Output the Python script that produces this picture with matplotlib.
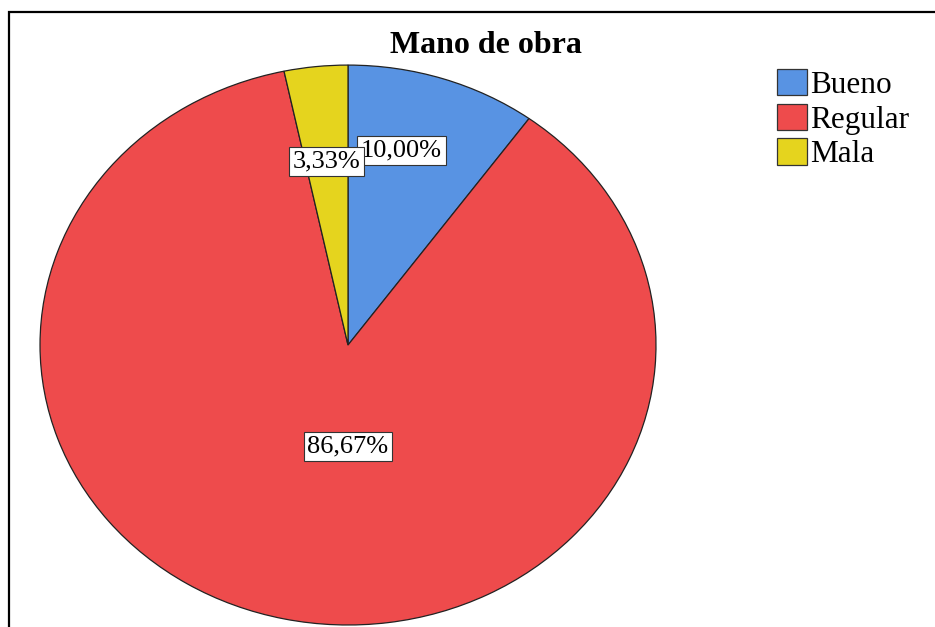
import numpy as np
import matplotlib.pyplot as plt
from matplotlib.patches import Rectangle

categorias = ["Bueno", "Regular", "Mala"]
porcentajes = [10.00, 86.67, 3.33]
colores = ["#5893E3", "#EE4B4C", "#E5D41E"]
titulo = "Mano de obra"

plt.rcParams['font.family'] = ['Liberation Serif', 'DejaVu Serif']

fig = plt.figure(figsize=(9.35, 6.27), dpi=100)
ax = fig.add_axes([0.0428, 0.0032, 0.6588, 0.893])

wedges, _ = ax.pie(porcentajes, colors=colores, startangle=90, counterclock=False,
                   wedgeprops=dict(edgecolor="#222222", linewidth=0.9))
ax.set_xlim(-1, 1)
ax.set_ylim(-1, 1)
ax.set_aspect('auto')

# etiquetas de porcentaje (estilo SPSS: caja blanca)
radios = [0.73, 0.37, 0.66]
desplaz = [-0.052, 0.077, 0.0]
for i, (w, p, r, d) in enumerate(zip(wedges, porcentajes, radios, desplaz)):
    ang = np.deg2rad((w.theta1 + w.theta2) / 2)
    x = r * np.cos(ang) + d
    y = r * np.sin(ang)
    ax.text(x, y, "{:.2f}%".format(p).replace(".", ","), ha="center", va="center",
            fontsize=19, zorder=5 + i,
            bbox=dict(boxstyle="square,pad=0.14", facecolor="white",
                      edgecolor="#333333", linewidth=0.8))

fig.text(0.52, 0.928, titulo, ha="center", va="center", fontsize=23, fontweight="bold")

leg = fig.legend(wedges, categorias, loc="upper left", bbox_to_anchor=(0.831, 0.89),
                 frameon=False, fontsize=22.5, handlelength=0.96, handleheight=0.92,
                 handletextpad=0.1, labelspacing=0.12, borderpad=0, borderaxespad=0)
for h in leg.legend_handles:
    h.set_edgecolor("#333333")
    h.set_linewidth(0.9)

fig.patches.append(Rectangle((0.0096, -0.1), 1.1, 0.981 + 0.1, transform=fig.transFigure,
                             fill=False, edgecolor="black", linewidth=1.6))

fig.savefig("out.png", dpi=100)
